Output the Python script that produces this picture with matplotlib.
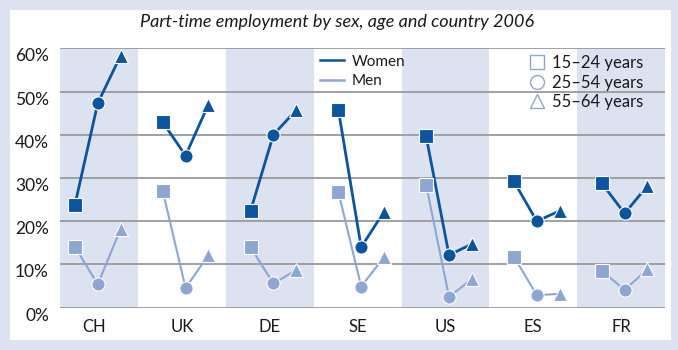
import matplotlib
matplotlib.use("Agg")
import matplotlib.pyplot as plt
from matplotlib.patches import Rectangle
from matplotlib.lines import Line2D
import numpy as np

countries = ["CH", "UK", "DE", "SE", "US", "ES", "FR"]
age_groups = ["15–24 years", "25–54 years", "55–64 years"]

women_15_24 = [23.8, 42.9, 22.4, 45.8, 39.6, 29.2, 28.8]
women_25_54 = [47.3, 35.2, 40.0, 14.0, 12.2, 20.0, 21.8]
women_55_64 = [58.3, 47.0, 45.7, 22.2, 14.7, 22.4, 28.2]
men_15_24 = [14.1, 27.0, 14.0, 26.8, 28.4, 11.8, 8.6]
men_25_54 = [5.4, 4.6, 5.6, 4.9, 2.5, 2.9, 4.1]
men_55_64 = [18.2, 12.1, 8.7, 11.7, 6.6, 3.2, 8.9]

WOMEN_COLOR = "#0a559e"
MEN_COLOR = "#8ea6d2"
SHADE = "#dce2ef"
GRID = "#9a9a9a"
TEXT = "#1a1a1a"

plt.rcParams["font.family"] = ["Lato", "DejaVu Sans"]

fig = plt.figure(figsize=(6.78, 3.5), dpi=100)
fig.patch.set_facecolor(SHADE)
# white panel
fig.patches.append(Rectangle((10 / 678, 10 / 350), 661 / 678, 330 / 350,
                             transform=fig.transFigure, facecolor="white",
                             edgecolor="none", zorder=-1))

ax = fig.add_axes([60 / 678, 42.3 / 350, 605 / 678, 259.4 / 350])
ax.set_facecolor("none")
ax.set_xlim(-0.39, 6.5)
ax.set_ylim(0, 60)

for i in range(0, len(countries), 2):
    ax.axvspan(i - 0.5, i + 0.5, color=SHADE, zorder=0, lw=0)
for v in range(0, 61, 10):
    ax.axhline(v, color=GRID, lw=1.3, zorder=1)

offsets = [-0.22, 0.04, 0.30]
markers = ["s", "o", "^"]
sizes = [9.5, 9.5, 10]
series = [
    (WOMEN_COLOR, 2.0, [women_15_24, women_25_54, women_55_64]),
    (MEN_COLOR, 1.5, [men_15_24, men_25_54, men_55_64]),
]
for color, lw, groups in series:
    for i in range(len(countries)):
        xs = [i + o for o in offsets]
        ys = [g[i] for g in groups]
        ax.plot(xs, ys, color=color, lw=lw, zorder=3, clip_on=False)
        for x, y, m, s in zip(xs, ys, markers, sizes):
            ax.plot(x, y, marker=m, ms=s, color=color, mec="white", mew=0.8,
                    zorder=4, clip_on=False)

for s in ax.spines.values():
    s.set_visible(False)
ax.tick_params(length=0)
ax.set_xticks(range(len(countries)))
ax.set_xticklabels(countries, fontsize=12, color=TEXT)
ax.tick_params(axis="x", pad=8)
ax.set_yticks(range(0, 61, 10))
ax.set_yticklabels([f"{v}%" for v in range(0, 61, 10)], fontsize=12.5,
                   color=TEXT, va="top")
ax.tick_params(axis="y", pad=8)

sex_handles = [Line2D([], [], color=WOMEN_COLOR, lw=1.8),
               Line2D([], [], color=MEN_COLOR, lw=1.8)]
leg1 = ax.legend(sex_handles, ["Women", "Men"], loc="upper left",
                 bbox_to_anchor=(312 / 678, 1 - 47 / 350),
                 bbox_transform=fig.transFigure, frameon=False,
                 fontsize=11, handlelength=1.6, handletextpad=0.5,
                 labelspacing=0.35, borderpad=0, labelcolor=TEXT)
ax.add_artist(leg1)

age_handles = [Line2D([], [], ls="none", marker=m, ms=10, mfc="white",
                      mec=MEN_COLOR, mew=1.0) for m in markers]
leg2 = ax.legend(age_handles, age_groups, loc="upper left",
                 bbox_to_anchor=(520 / 678, 1 - 47 / 350),
                 bbox_transform=fig.transFigure, frameon=False,
                 fontsize=12, handlelength=1.0, handletextpad=0.4,
                 labelspacing=0.2, borderpad=0, labelcolor=TEXT)

fig.text(337 / 678, 1 - 22 / 350,
         "Part-time employment by sex, age and country 2006",
         ha="center", va="center", fontsize=13, style="italic", color=TEXT)

fig.savefig("out.png", dpi=100, facecolor=fig.get_facecolor())
